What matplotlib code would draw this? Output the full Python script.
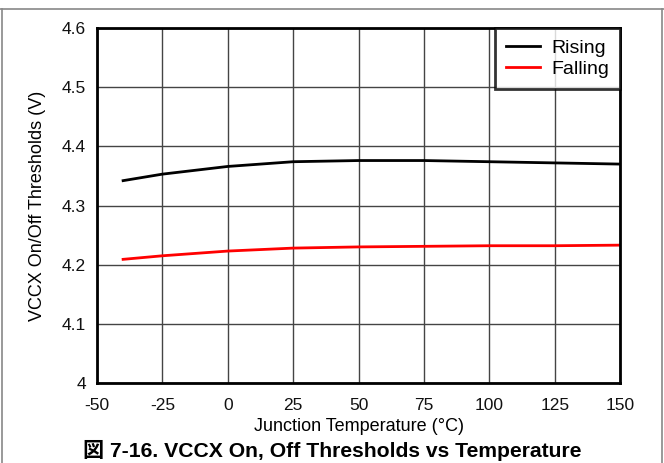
import matplotlib.pyplot as plt
from matplotlib.lines import Line2D

# Data
temp = [-40, -25, 0, 25, 50, 75, 100, 125, 150]
rising = [4.342, 4.353, 4.366, 4.374, 4.376, 4.376, 4.374, 4.372, 4.370]
falling = [4.209, 4.215, 4.223, 4.228, 4.230, 4.231, 4.232, 4.232, 4.233]

xticks = [-50, -25, 0, 25, 50, 75, 100, 125, 150]
yticks = [4, 4.1, 4.2, 4.3, 4.4, 4.5, 4.6]
ytick_labels = ['4', '4.1', '4.2', '4.3', '4.4', '4.5', '4.6']

plt.rcParams['font.family'] = ['Liberation Sans', 'Noto Sans CJK JP', 'DejaVu Sans']
plt.rcParams['axes.unicode_minus'] = False

fig = plt.figure(figsize=(6.64, 4.63), dpi=100)
ax = fig.add_axes([0.146, 0.1728, 0.788, 0.7667])

ax.plot(temp, rising, color='black', lw=2, label='Rising')
ax.plot(temp, falling, color='red', lw=2, label='Falling')

ax.set_xlim(-50, 150)
ax.set_ylim(4, 4.6)
ax.set_xticks(xticks)
ax.set_yticks(yticks)
ax.set_yticklabels(ytick_labels)
ax.tick_params(length=0, labelsize=12.5, colors='#111111')
ax.tick_params(axis='x', pad=11)
ax.tick_params(axis='y', pad=8)
ax.grid(True, color='#444444', lw=1)
for s in ax.spines.values():
    s.set_linewidth(2)
    s.set_color('black')

ax.set_xlabel('Junction Temperature (°C)', fontsize=13)
ax.set_ylabel('VCCX On/Off Thresholds (V)', fontsize=13)
ax.xaxis.set_label_coords(0.5, -0.099)
ax.yaxis.set_label_coords(-0.098, 0.5)

leg = ax.legend(loc='upper right', fontsize=14, frameon=True, fancybox=False,
                borderaxespad=0, handlelength=1.75, handletextpad=0.57,
                labelspacing=0.18, borderpad=0.58)
leg.get_frame().set_edgecolor('black')
leg.get_frame().set_linewidth(2)

fig.text(0.5, 0.013, '図 7-16. VCCX On, Off Thresholds vs Temperature',
         ha='center', va='baseline', fontsize=15.2, fontweight='bold')

# thin gray frame around the figure
fig.add_artist(Line2D([0, 1], [1 - 9 / 463, 1 - 9 / 463], color='#888888', lw=1.2))
fig.add_artist(Line2D([1.5 / 664, 1.5 / 664], [0, 1 - 9 / 463], color='#888888', lw=1.2))
fig.add_artist(Line2D([662 / 664, 662 / 664], [0, 1 - 9 / 463], color='#888888', lw=1.2))

fig.savefig('out.png', dpi=100)
